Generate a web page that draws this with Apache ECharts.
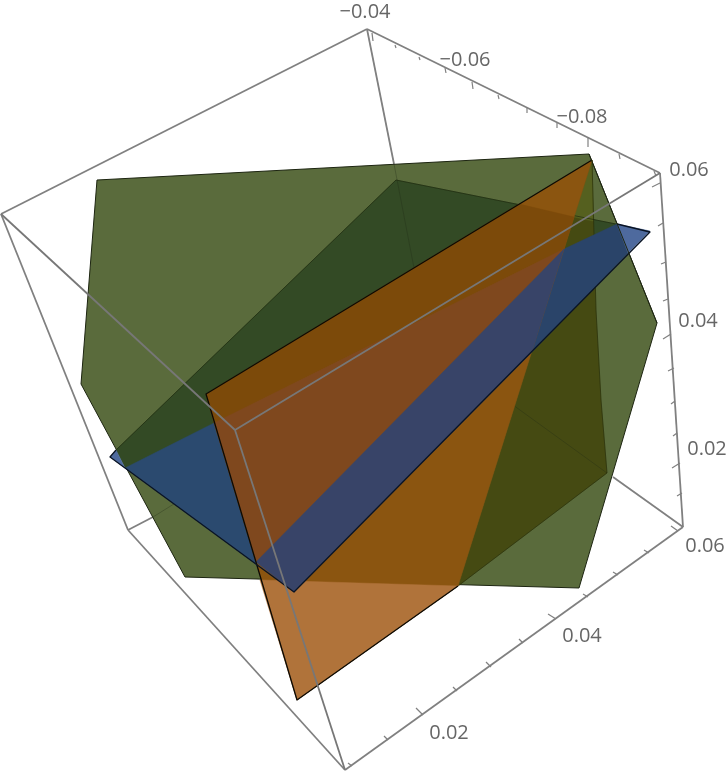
<!DOCTYPE html>
<html lang="en">
<head>
    <meta charset="UTF-8">
    <title>3D regions</title>
    <style>
        html, body { margin: 0; padding: 0; background: #fff; }
        #main { width: 727px; height: 772px; }
    </style>
</head>
<body>
<div id="main"></div>
<script src="https://cdn.jsdelivr.net/npm/echarts@6/dist/echarts.min.js"></script>
<script>
    const boxFront = [[1, 214, 235, 430], [235, 430, 660, 173], [235, 430, 345, 770]];
    const boxBack = [[367, 29, 660, 173], [367, 29, 1, 214], [1, 214, 128, 530], [128, 530, 345, 770],
        [345, 770, 683, 527], [660, 173, 683, 527],
        [367, 29, 394, 164], [128, 530, 153, 517], [683, 527, 613, 477]];
    const boxHidden = [[394, 164, 414, 268], [153, 517, 230, 469], [607, 473, 513, 405]];

    const ticks = [
        [372, 33, 373, 41], [395, 45, 396, 48], [419, 57, 420, 60], [445, 68, 446, 73], [472, 82, 473, 89],
        [498, 95, 499, 99], [527, 108, 527, 113], [557, 123, 557, 128], [588, 137, 588, 147], [619, 154, 620, 159], [654, 171, 656, 176],
        [652, 187, 660, 183], [658, 226, 663, 223], [661, 264, 666, 262], [663, 301, 668, 299], [663, 339, 671, 334],
        [668, 371, 674, 368], [671, 404, 675, 401], [673, 436, 677, 433], [672, 468, 680, 463], [677, 496, 682, 493],
        [348, 763, 352, 766], [384, 736, 388, 740], [416, 708, 423, 715], [453, 687, 457, 691], [486, 662, 491, 667],
        [519, 639, 523, 643], [548, 614, 556, 619], [583, 594, 588, 597], [613, 572, 618, 575], [644, 550, 649, 553], [671, 526, 678, 531]
    ];
    const tickLabels = [
        [365, 12, '\u22120.04'], [465, 60, '\u22120.06'], [582, 117, '\u22120.08'],
        [689, 170, '0.06'], [698, 321, '0.04'], [707, 449, '0.02'],
        [705, 546, '0.06'], [582, 636, '0.04'], [449, 733, '0.02']
    ];

    const greenHull = [[97, 180], [589, 154], [657, 323], [579, 588], [185, 577], [81, 384]];
    const greenBack = [[116, 450], [396, 180], [616, 224], [622, 245], [125, 468]];
    const oliveFace = [[592, 160], [596, 310], [601, 400], [607, 473], [458, 586]];
    const oliveTop = [[592, 160], [574, 217], [593, 221]];

    const blueTip = [[110, 457], [116, 450], [125, 468]];
    const blueLeft = [[125, 468], [214, 423], [256, 562], [294, 592]];
    const blueMid = [[564, 249], [617, 224], [628, 253], [532, 352]];
    const blueEnd = [[617, 224], [650, 231], [628, 253]];
    const blueOverOrange = [[256, 562], [564, 249], [532, 352], [294, 592]];

    const orangeFace = [[206, 394], [592, 160], [458, 586], [297, 700]];
    const orangeTopBand = [[206, 394], [519, 204], [574, 217], [564, 249], [214, 423]];
    const orangeWedge = [[214, 423], [564, 249], [256, 562]];
    const orangeOutside = [[260, 580], [458, 586], [297, 700]];

    const edgeOrange = [[592, 160], [206, 394], [297, 700], [458, 586]];
    const edgeBlue = [[116, 450], [110, 457], [294, 592], [650, 232], [617, 224]];
    const edgeGreenRight = [[589, 154], [657, 323]];
    const edgeGreenBack = [[116, 450], [396, 180], [616, 224]];
    const edgeOlive = [[592, 160], [596, 310], [601, 400], [607, 473], [458, 586]];

    function areaSeries(points, fill, stroke, width) {
        return {
            type: 'custom',
            coordinateSystem: 'cartesian2d',
            silent: true,
            clip: false,
            data: [0],
            renderItem(params, api) {
                return {
                    type: 'polygon',
                    shape: {points: points.map(p => api.coord(p))},
                    style: {fill: fill, stroke: stroke || fill, lineWidth: width || 0.5, lineJoin: 'round'}
                };
            }
        };
    }

    function pathSeries(points, stroke, width) {
        return {
            type: 'custom',
            coordinateSystem: 'cartesian2d',
            silent: true,
            clip: false,
            data: [0],
            renderItem(params, api) {
                return {
                    type: 'polyline',
                    shape: {points: points.map(p => api.coord(p))},
                    style: {fill: 'none', stroke: stroke, lineWidth: width, lineJoin: 'round'}
                };
            }
        };
    }

    function segmentSeries(segments, stroke, width) {
        return {
            type: 'custom',
            coordinateSystem: 'cartesian2d',
            silent: true,
            clip: false,
            data: segments,
            encode: {x: [0, 2], y: [1, 3]},
            renderItem(params, api) {
                const a = api.coord([api.value(0), api.value(1)]);
                const b = api.coord([api.value(2), api.value(3)]);
                return {
                    type: 'line',
                    shape: {x1: a[0], y1: a[1], x2: b[0], y2: b[1]},
                    style: {stroke: stroke, lineWidth: width}
                };
            }
        };
    }

    const labelSeries = {
        type: 'custom',
        coordinateSystem: 'cartesian2d',
        silent: true,
        clip: false,
        data: tickLabels,
        renderItem(params, api) {
            const p = api.coord([api.value(0), api.value(1)]);
            return {
                type: 'text',
                style: {
                    x: p[0], y: p[1], text: tickLabels[params.dataIndex][2],
                    fill: '#666', font: '20px "Open Sans"', align: 'center', verticalAlign: 'middle'
                }
            };
        }
    };

    const option = {
        animation: false,
        grid: {left: 0, right: 0, top: 0, bottom: 0},
        xAxis: {type: 'value', min: 0, max: 727, show: false},
        yAxis: {type: 'value', min: 0, max: 772, inverse: true, show: false},
        series: [
            segmentSeries(boxBack, '#808080', 1.8),
            segmentSeries(ticks, '#808080', 1.2),
            areaSeries(greenHull, '#5a6b3c', '#1c2410', 1),
            areaSeries(greenBack, '#334a25'),
            areaSeries(oliveFace, '#454a12'),
            areaSeries(oliveTop, '#55601f'),
            segmentSeries(boxHidden, 'rgba(30,40,20,0.3)', 1),
            pathSeries(edgeGreenBack, 'rgba(25,35,10,0.6)', 1),
            pathSeries(edgeOlive, 'rgba(25,30,5,0.45)', 1),
            areaSeries(blueTip, '#4e6a9e'),
            areaSeries(blueLeft, '#2b4a6f'),
            areaSeries(blueMid, '#2a4469'),
            areaSeries(blueEnd, '#4e6a9e'),
            areaSeries(orangeFace, '#8b5510'),
            areaSeries(orangeTopBand, '#7c4a0a'),
            areaSeries(orangeOutside, '#b0733a'),
            areaSeries(orangeWedge, '#7f481e'),
            areaSeries(blueOverOrange, '#384468'),
            pathSeries(edgeOrange, '#0c0a04', 1.3),
            pathSeries(edgeBlue, '#0a1424', 1.3),
            pathSeries(edgeGreenRight, '#1c2410', 1),
            segmentSeries(boxFront, '#777', 1.8),
            labelSeries
        ]
    };

    const chart = echarts.init(document.getElementById('main'));
    chart.setOption(option);
</script>
</body>
</html>
